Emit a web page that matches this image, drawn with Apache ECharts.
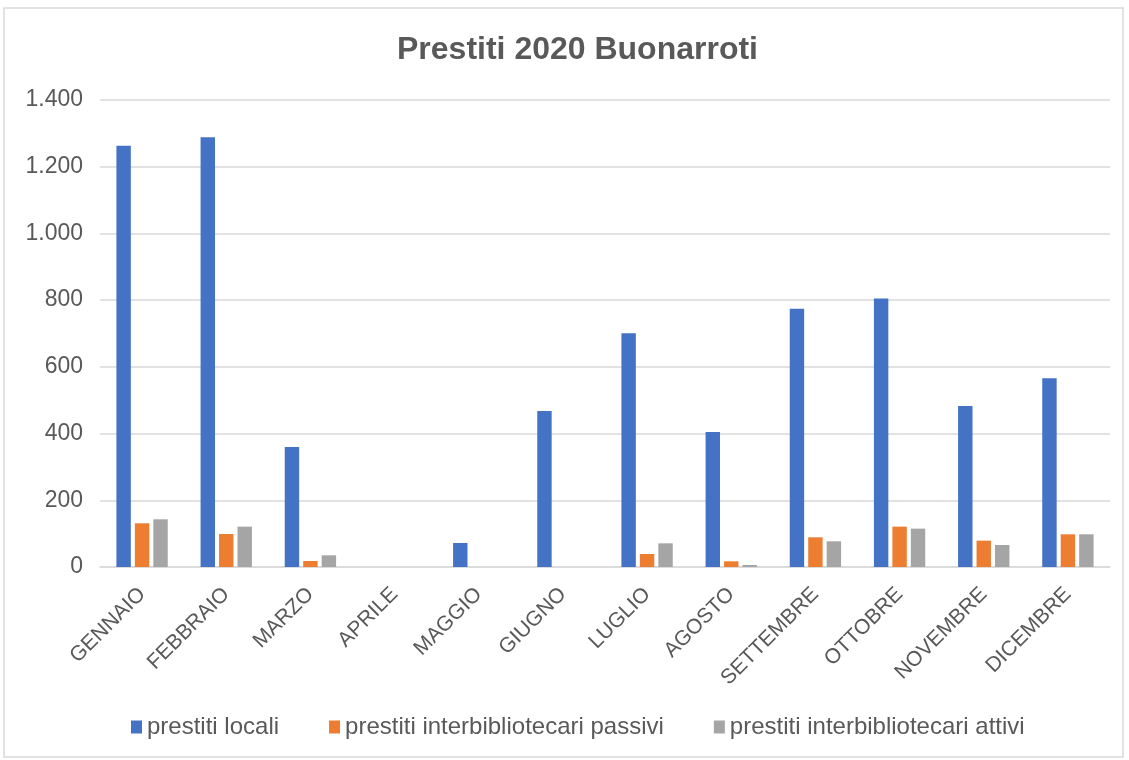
<!DOCTYPE html>
<html>
<head>
<meta charset="utf-8">
<script src="https://cdn.jsdelivr.net/npm/echarts@6/dist/echarts.min.js"></script>
<style>
  html, body { margin: 0; padding: 0; background: #fff; }
  #chart { width: 1129px; height: 760px; }
</style>
</head>
<body>
<div id="chart"></div>
<script>
// mesi
const mesi = ['GENNAIO', 'FEBBRAIO', 'MARZO', 'APRILE', 'MAGGIO', 'GIUGNO',
  'LUGLIO', 'AGOSTO', 'SETTEMBRE', 'OTTOBRE', 'NOVEMBRE', 'DICEMBRE']

// valori
const prestitiLocali = [1263, 1288, 360, 0, 72, 468, 701, 405, 774, 805, 483, 566]
const prestitiPassivi = [131, 99, 18, 0, 0, 0, 39, 17, 89, 121, 79, 98]
const prestitiAttivi = [143, 121, 35, 0, 0, 0, 71, 6, 77, 115, 66, 98]

const nomiSerie = ['prestiti locali', 'prestiti interbibliotecari passivi', 'prestiti interbibliotecari attivi']
const colori = ['#4472C4', '#ED7D31', '#A5A5A5']

const testo = '#595959'
const font = 'Liberation Sans, Arial, sans-serif'

const chart = echarts.init(document.getElementById('chart'))

// formato italiano: 1.400
function migliaia(v) {
  return String(v).replace(/\B(?=(\d{3})+(?!\d))/g, '.')
}

const serie = [prestitiLocali, prestitiPassivi, prestitiAttivi].map((dati, i) => ({
  name: nomiSerie[i],
  type: 'bar',
  data: dati,
  barGap: '28%',
  barCategoryGap: '39%',
  itemStyle: { color: colori[i] },
}))

chart.setOption({
  animation: false,
  color: colori,
  title: {
    text: 'Prestiti 2020 Buonarroti',
    left: 392,
    top: 29,
    textStyle: { color: testo, fontSize: 32, fontWeight: 'bold', fontFamily: font },
  },
  legend: {
    bottom: 16,
    left: 126,
    itemWidth: 11,
    itemHeight: 13,
    itemGap: 50,
    icon: 'rect',
    textStyle: { color: testo, fontSize: 24, fontFamily: font },
    data: nomiSerie,
  },
  grid: {
    left: 100,
    right: 19,
    top: 100,
    bottom: 193,
  },
  xAxis: {
    type: 'category',
    data: mesi,
    axisLine: { lineStyle: { color: '#D9D9D9', width: 1.5 } },
    axisTick: { show: false },
    axisLabel: {
      rotate: 45,
      margin: 24,
      color: testo,
      fontSize: 21,
      fontFamily: font,
      interval: 0,
    },
  },
  yAxis: {
    type: 'value',
    min: 0,
    max: 1400,
    interval: 200,
    axisLine: { show: false },
    axisTick: { show: false },
    axisLabel: {
      color: testo,
      fontSize: 23,
      fontFamily: font,
      margin: 17,
      formatter: migliaia,
    },
    splitLine: { lineStyle: { color: '#D9D9D9', width: 1.5 } },
  },
  graphic: [{
    type: 'rect',
    shape: { x: 4, y: 8, width: 1119, height: 749 },
    style: { fill: null, stroke: '#D9D9D9', lineWidth: 1.5 },
    silent: true,
  }],
  series: serie,
})
</script>
</body>
</html>
